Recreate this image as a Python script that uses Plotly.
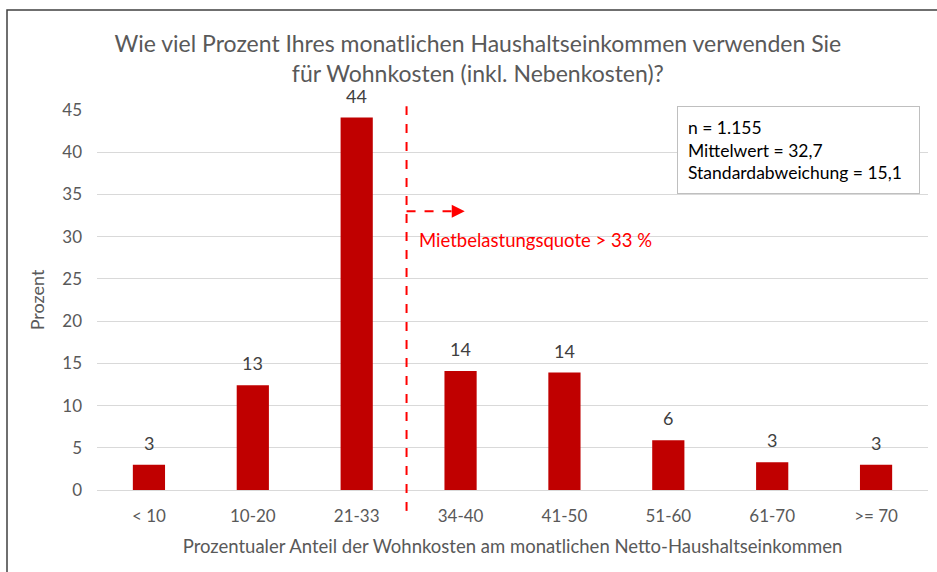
import plotly.graph_objects as go

# DATA
categories = ["< 10", "10-20", "21-33", "34-40", "41-50", "51-60", "61-70", ">= 70"]
values = [3.0, 12.4, 44.1, 14.1, 13.9, 5.9, 3.3, 3.0]
labels = ["3", "13", "44", "14", "14", "6", "3", "3"]
y_ticks = [0, 5, 10, 15, 20, 25, 30, 35, 40, 45]

threshold_pos = 2.48      # between "21-33" and "34-40"
threshold_label = "Mietbelastungsquote > 33 %"
stats_lines = ["n = 1.155", "Mittelwert = 32,7", "Standardabweichung = 15,1"]

FONT = "Lato, 'Open Sans', sans-serif"
GREY = "#595959"
BAR = "#c00000"
RED = "#ff0000"

fig = go.Figure()

fig.add_trace(go.Bar(
    x=list(range(len(categories))),
    y=values,
    marker=dict(color=BAR, line=dict(width=0)),
    width=0.31,
    hoverinfo="skip",
))

# value labels above bars
for i, (v, t) in enumerate(zip(values, labels)):
    fig.add_annotation(
        x=i, y=v, text=t, showarrow=False,
        yanchor="bottom", yshift=9,
        font=dict(family=FONT, size=18, color="#404040"),
    )

# threshold: dashed vertical line + dashed arrow
fig.add_shape(
    type="line", xref="x", yref="paper",
    x0=threshold_pos, x1=threshold_pos, y0=-0.055, y1=1.01,
    line=dict(color=RED, width=2, dash="dash"),
)
fig.add_shape(
    type="line", xref="x", yref="y",
    x0=threshold_pos, x1=threshold_pos + 0.47, y0=33, y1=33,
    line=dict(color=RED, width=2, dash="dash"),
)
fig.add_annotation(
    x=threshold_pos + 0.56, y=33, ax=threshold_pos + 0.45, ay=33,
    xref="x", yref="y", axref="x", ayref="y",
    text="", showarrow=True, arrowhead=2, arrowsize=1.3, arrowwidth=2,
    arrowcolor=RED,
)
fig.add_annotation(
    x=threshold_pos + 0.1, y=29.6, text=threshold_label, showarrow=False,
    xanchor="left", yanchor="middle",
    font=dict(family=FONT, size=18.5, color=RED),
)

# statistics box
fig.add_annotation(
    xref="paper", yref="paper", x=0.698, y=1.011,
    xanchor="left", yanchor="top",
    text="<br>".join(stats_lines), showarrow=False, align="left",
    width=221, height=66, valign="middle",
    bordercolor="#bfbfbf", borderwidth=1, borderpad=10, bgcolor="white",
    font=dict(family=FONT, size=17.5, color="#000000"),
)

# outer chart border (only left/top visible in the crop)
fig.add_shape(
    type="rect", xref="paper", yref="paper",
    x0=-0.1083, x1=1.2, y0=-0.4, y1=1.263,
    line=dict(color="#404040", width=1.5),
    layer="below",
)

fig.update_layout(
    width=937, height=572,
    margin=dict(l=97, r=9, t=110, b=82),
    paper_bgcolor="white",
    plot_bgcolor="white",
    showlegend=False,
    font=dict(family=FONT, color=GREY),
    title=dict(
        text="Wie viel Prozent Ihres monatlichen Haushaltseinkommen verwenden Sie<br>für Wohnkosten (inkl. Nebenkosten)?",
        x=0.51, xref="container", xanchor="center",
        y=0.909, yref="container", yanchor="middle",
        font=dict(family=FONT, size=23, color=GREY),
    ),
    xaxis=dict(
        tickmode="array",
        tickvals=list(range(len(categories))),
        ticktext=categories,
        range=[-0.5, len(categories) - 0.5],
        showgrid=False, zeroline=False, showline=False,
        ticks="", ticklabelstandoff=14,
        tickfont=dict(family=FONT, size=17, color=GREY),
        title=dict(
            text="Prozentualer Anteil der Wohnkosten am monatlichen Netto-Haushaltseinkommen",
            font=dict(family=FONT, size=18.5, color=GREY),
            standoff=15,
        ),
    ),
    yaxis=dict(
        range=[0, 45],
        tickmode="array", tickvals=y_ticks,
        showgrid=True, gridcolor="#d9d9d9", gridwidth=1,
        zeroline=True, zerolinecolor="#d9d9d9", zerolinewidth=1,
        showline=False, ticks="", ticklabelstandoff=14,
        tickfont=dict(family=FONT, size=17, color=GREY),
        title=dict(text="Prozent", font=dict(family=FONT, size=18, color=GREY), standoff=12),
    ),
)

# remove the browser's default body margin so the figure sits at (0, 0)
fig.write_html(
    "out.html",
    config={"displayModeBar": False},
    post_script="document.body.style.margin='0';",
)
